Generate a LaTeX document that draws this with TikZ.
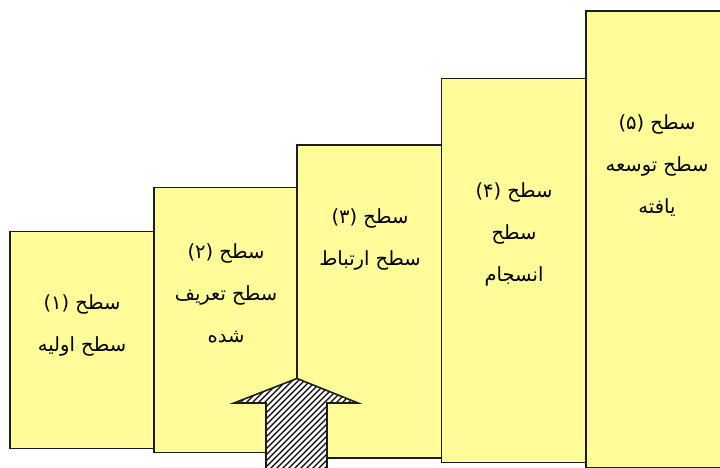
\documentclass[tikz,border=0pt]{standalone}
\usepackage{fontspec}
\newfontfamily\fafont[Script=Arabic]{DejaVu Sans}
\TeXXeTstate=1
\definecolor{boxyellow}{RGB}{255,252,153}
\definecolor{edgegray}{RGB}{28,28,28}
\begin{document}
\begin{tikzpicture}[x=1pt,y=-1pt,
  levelbox/.style={draw=edgegray, line width=1.8pt, fill=boxyellow,
    anchor=north west, inner sep=0pt, outer sep=0pt},
  leveltext/.style={font=\fafont\fontsize{19.5}{42}\selectfont, align=center,
    text=black, inner sep=0pt},
  hatchline/.style={line width=1.1pt, black}]
\useasboundingbox (0,0) rectangle (720,468);
\clip (0,0) rectangle (720,468);

% five levels, each one taller and set slightly lower than the last
\node[levelbox, minimum width=144pt, minimum height=217pt]   (l1) at (10,231.5)  {};
\node[levelbox, minimum width=143pt, minimum height=265pt]   (l2) at (154,187.5) {};
\node[levelbox, minimum width=144.5pt, minimum height=313pt] (l3) at (297,145)   {};
\node[levelbox, minimum width=144.5pt, minimum height=384pt] (l4) at (441.5,78.5) {};
\node[levelbox, minimum width=150pt, minimum height=456.5pt] (l5) at (586,11)    {};

% labels
\node[leveltext] (t1) at (82,325)
  {\beginR سطح (۱)\endR\\\beginR سطح اولیه\endR};
\node[leveltext] (t2) at (226,293)
  {\beginR سطح (۲)\endR\\\beginR سطح تعریف\endR\\\beginR شده\endR};
\node[leveltext] (t3) at (370,239)
  {\beginR سطح (۳)\endR\\\beginR سطح ارتباط\endR};
\node[leveltext] (t4) at (514,234)
  {\beginR سطح (۴)\endR\\\beginR سطح\endR\\\beginR انسجام\endR};
\node[leveltext] (t5) at (657,166)
  {\beginR سطح (۵)\endR\\\beginR سطح توسعه\endR\\\beginR یافته\endR};

% hatched upward arrow at the foot of level 2/3
\coordinate (tip) at (297,378.5);
\begin{scope}
  \clip (tip) -- (358,403) -- (327,403) -- (327,470) -- (266,470)
        -- (266,403) -- (234,403) -- cycle;
  \fill[white] (220,370) rectangle (370,470);
  \foreach \k in {120,126,...,380}
    \draw[hatchline] (\k,475) -- ++(110,-110);
\end{scope}
\draw[edgegray, line width=1.6pt, line join=miter]
  (327,470) -- (327,403) -- (358,403) -- (tip) -- (234,403)
  -- (266,403) -- (266,470);
\end{tikzpicture}
\end{document}
